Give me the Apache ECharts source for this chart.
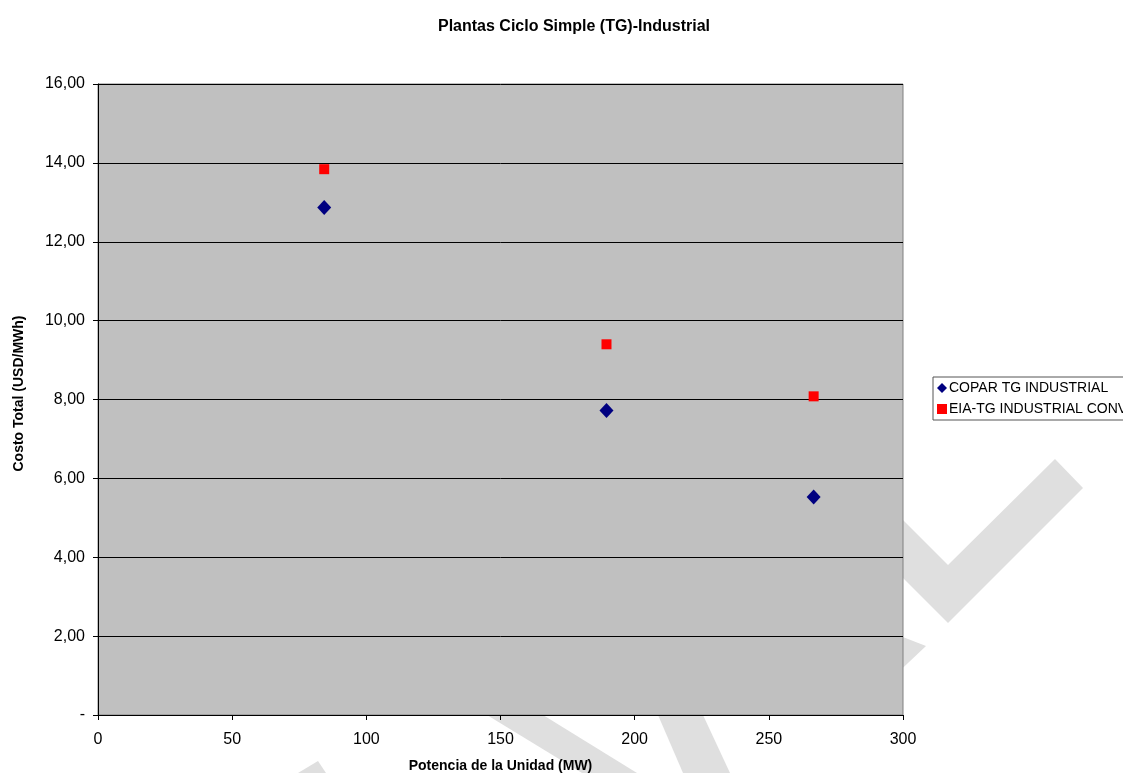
<!DOCTYPE html>
<html>
<head>
<meta charset="utf-8">
<script src="https://cdn.jsdelivr.net/npm/echarts@6/dist/echarts.min.js"></script>
<style>
html,body{margin:0;padding:0;background:#fff;}
#chart{width:1123px;height:773px;}
</style>
</head>
<body>
<div id="chart"></div>
<script>
const title = 'Plantas Ciclo Simple (TG)-Industrial';
const xAxisName = 'Potencia de la Unidad (MW)';
const yAxisName = 'Costo Total (USD/MWh)';
const seriesNames = ['COPAR TG INDUSTRIAL', 'EIA-TG INDUSTRIAL CONV'];
const copar = [[84.3, 12.87], [189.5, 7.72], [266.7, 5.53]];
const eia = [[84.3, 13.84], [189.5, 9.40], [266.7, 8.08]];

const chart = echarts.init(document.getElementById('chart'));
const font = 'Liberation Sans, Arial, sans-serif';
const wm = '#dfdfdf';
chart.setOption({
  animation: false,
  backgroundColor: '#ffffff',
  title: {
    text: title, left: 569, top: 14, textAlign: 'center',
    textStyle: {fontFamily: font, fontSize: 16, fontWeight: 'bold', color: '#000'}
  },
  graphic: [
    {type: 'polygon', z: -10, silent: true, shape: {points: [[1055,459],[1083,488],[948,623],[870,545],[870,487],[948,565]]}, style: {fill: wm}},
    {type: 'polygon', z: -10, silent: true, shape: {points: [[890,632],[926,646],[890,680]]}, style: {fill: wm}},
    {type: 'polygon', z: -10, silent: true, shape: {points: [[487,715],[543,715],[637,773],[582,773]]}, style: {fill: wm}},
    {type: 'polygon', z: -10, silent: true, shape: {points: [[658,715],[703,715],[730,773],[683,773]]}, style: {fill: wm}},
    {type: 'polygon', z: -10, silent: true, shape: {points: [[298,773],[318,761],[326,773]]}, style: {fill: wm}}
  ],
  legend: {
    orient: 'vertical', left: 933, top: 377,
    borderColor: '#555', borderWidth: 1, padding: [4, 40, 4, 4],
    itemWidth: 10, itemHeight: 10, itemGap: 7,
    textStyle: {fontFamily: font, fontSize: 14, color: '#000', padding: [0, 0, 0, -3]},
    data: [
      {name: seriesNames[0], icon: 'diamond'},
      {name: seriesNames[1], icon: 'rect'}
    ]
  },
  grid: {
    left: 98, right: 220, top: 84, bottom: 58,
    outerBoundsMode: 'none', containLabel: false,
    show: true, backgroundColor: '#c0c0c0', borderColor: '#808080', borderWidth: 1
  },
  xAxis: {
    type: 'value', min: 0, max: 300, interval: 50,
    name: xAxisName, nameLocation: 'middle', nameGap: 44,
    nameTextStyle: {fontFamily: font, fontSize: 14, fontWeight: 'bold', color: '#000', padding: [0, 0, 0, 0]},
    axisLine: {show: true, onZero: false, lineStyle: {color: '#000', width: 1}},
    axisTick: {show: true, inside: false, length: 5, lineStyle: {color: '#000'}},
    axisLabel: {fontFamily: font, fontSize: 16, color: '#000', margin: 17},
    splitLine: {show: false}
  },
  yAxis: {
    type: 'value', min: 0, max: 16, interval: 2,
    name: yAxisName, nameLocation: 'middle', nameGap: 72, nameRotate: 90,
    nameTextStyle: {fontFamily: font, fontSize: 14, fontWeight: 'bold', color: '#000', padding: [0, 0, 0, 12]},
    axisLine: {show: true, onZero: false, lineStyle: {color: '#000', width: 1}},
    axisTick: {show: true, inside: false, length: 5, lineStyle: {color: '#000'}},
    axisLabel: {
      fontFamily: font, fontSize: 16, color: '#000', margin: 13,
      formatter: v => v === 0 ? '-' : v.toFixed(2).replace('.', ',')
    },
    splitLine: {show: true, lineStyle: {color: '#000', width: 1}}
  },
  series: [
    {
      name: seriesNames[0], type: 'scatter', data: copar,
      symbol: 'diamond', symbolSize: [14, 15],
      itemStyle: {color: '#000080', opacity: 1}
    },
    {
      name: seriesNames[1], type: 'scatter', data: eia,
      symbol: 'rect', symbolSize: 10,
      itemStyle: {color: '#ff0000', opacity: 1}
    }
  ]
});
</script>
</body>
</html>
